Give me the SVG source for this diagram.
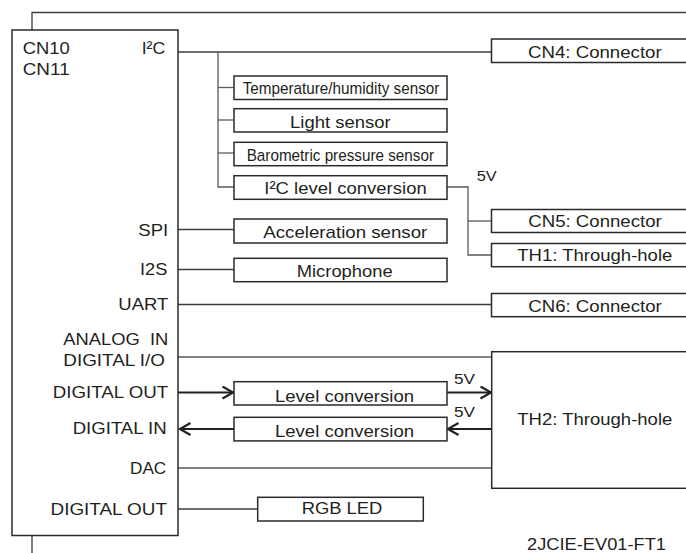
<svg xmlns="http://www.w3.org/2000/svg" width="686" height="553" viewBox="0 0 686 553">
  <style>
    .box { fill: #ffffff; stroke: #2a2a2a; stroke-width: 1.5; }
    .ln { fill: none; stroke: #3c3c3c; stroke-width: 1.3; }
    .bus { fill: none; stroke: #5a5a5a; stroke-width: 1.3; }
    .arw { fill: none; stroke: #231f20; stroke-width: 2.2; }
    text { font-family: "Liberation Sans", Arial, sans-serif; font-size: 17px; fill: #231f20; white-space: pre; }
    .v { font-size: 15.5px; }
  </style>
  <defs>
    <marker id="head" markerUnits="userSpaceOnUse" markerWidth="14" markerHeight="14" refX="11" refY="6.5" orient="auto">
      <path d="M0.5,0.5 L11,6.5 L0.5,12.5" fill="none" stroke="#231f20" stroke-width="2.2"/>
    </marker>
  </defs>

  <!-- connectors -->
  <g id="connectors">
    <polyline class="ln" points="32,30 32,12.5 700,12.5"/>
    <line class="ln" x1="32" y1="535.5" x2="32" y2="553"/>
    <line class="ln" x1="178" y1="52" x2="491.5" y2="52"/>
    <polyline class="bus" points="218,52 218,187 234,187"/>
    <line class="bus" x1="218" y1="87.5" x2="234" y2="87.5"/>
    <line class="bus" x1="218" y1="120" x2="234" y2="120"/>
    <line class="bus" x1="218" y1="153" x2="234" y2="153"/>
    <polyline class="bus" points="447,187 468,187 468,255 491.5,255"/>
    <line class="bus" x1="468" y1="221" x2="491.5" y2="221"/>
    <line class="ln" x1="178" y1="229.5" x2="234" y2="229.5"/>
    <line class="ln" x1="178" y1="269.5" x2="234" y2="269.5"/>
    <line class="ln" x1="178" y1="304.5" x2="491.5" y2="304.5"/>
    <line class="bus" x1="178" y1="357" x2="491.5" y2="357"/>
    <line class="arw" x1="178" y1="392.5" x2="233" y2="392.5" marker-end="url(#head)"/>
    <line class="arw" x1="447" y1="392.5" x2="491" y2="392.5" marker-end="url(#head)"/>
    <line class="arw" x1="234" y1="429" x2="180" y2="429" marker-end="url(#head)"/>
    <line class="arw" x1="491.5" y1="429" x2="448" y2="429" marker-end="url(#head)"/>
    <line class="bus" x1="178" y1="468" x2="491.5" y2="468"/>
    <line class="ln" x1="178" y1="509" x2="257.7" y2="509"/>
  </g>

  <!-- main board connector block -->
  <g id="cn10-cn11">
    <rect class="box" x="12" y="30" width="166" height="505.5"/>
    <text x="22.7" y="54.3" textLength="47" lengthAdjust="spacingAndGlyphs">CN10</text>
    <text x="22.7" y="75" textLength="47" lengthAdjust="spacingAndGlyphs">CN11</text>
    <text x="141.7" y="54.3" textLength="23.5" lengthAdjust="spacingAndGlyphs">I²C</text>
    <text x="138.3" y="235.7" textLength="30" lengthAdjust="spacingAndGlyphs">SPI</text>
    <text x="140" y="274.7" textLength="27.3" lengthAdjust="spacingAndGlyphs">I2S</text>
    <text x="118.3" y="310" textLength="50" lengthAdjust="spacingAndGlyphs">UART</text>
    <text x="63.3" y="345" textLength="105" lengthAdjust="spacingAndGlyphs">ANALOG  IN</text>
    <text x="63.3" y="366" textLength="101.7" lengthAdjust="spacingAndGlyphs">DIGITAL I/O</text>
    <text x="52.7" y="398" textLength="115.6" lengthAdjust="spacingAndGlyphs">DIGITAL OUT</text>
    <text x="72.7" y="434" textLength="94" lengthAdjust="spacingAndGlyphs">DIGITAL IN</text>
    <text x="130" y="474" textLength="36.3" lengthAdjust="spacingAndGlyphs">DAC</text>
    <text x="50.5" y="515" textLength="116.5" lengthAdjust="spacingAndGlyphs">DIGITAL OUT</text>
  </g>

  <!-- I2C devices -->
  <g id="temp-humidity">
    <rect class="box" x="234" y="76" width="213" height="23.5"/>
    <text x="242.7" y="94.3" textLength="196.7" lengthAdjust="spacingAndGlyphs">Temperature/humidity sensor</text>
  </g>
  <g id="light">
    <rect class="box" x="234" y="108.7" width="213" height="23.3"/>
    <text x="290" y="127.7" textLength="100.7" lengthAdjust="spacingAndGlyphs">Light sensor</text>
  </g>
  <g id="barometric">
    <rect class="box" x="234" y="142.3" width="213" height="23.4"/>
    <text x="246.7" y="160.7" textLength="187.3" lengthAdjust="spacingAndGlyphs">Barometric pressure sensor</text>
  </g>
  <g id="i2c-level">
    <rect class="box" x="234" y="175.7" width="213" height="23.6"/>
    <text x="264.3" y="194.3" textLength="162.4" lengthAdjust="spacingAndGlyphs">I²C level conversion</text>
  </g>
  <g id="cn4">
    <rect class="box" x="491.5" y="39" width="220" height="23.5"/>
    <text x="528" y="58.3" textLength="133.7" lengthAdjust="spacingAndGlyphs">CN4: Connector</text>
  </g>
  <g id="i2c-5v-label">
    <text class="v" x="476.7" y="180.7" textLength="20" lengthAdjust="spacingAndGlyphs">5V</text>
  </g>
  <g id="cn5">
    <rect class="box" x="491.5" y="209.5" width="220" height="23"/>
    <text x="528.3" y="226.7" textLength="133.4" lengthAdjust="spacingAndGlyphs">CN5: Connector</text>
  </g>
  <g id="th1">
    <rect class="box" x="491.5" y="243.5" width="220" height="23.2"/>
    <text x="517.3" y="260.7" textLength="155" lengthAdjust="spacingAndGlyphs">TH1: Through-hole</text>
  </g>

  <!-- SPI / I2S / UART -->
  <g id="acceleration">
    <rect class="box" x="234" y="219" width="213" height="24"/>
    <text x="263.3" y="237.7" textLength="164" lengthAdjust="spacingAndGlyphs">Acceleration sensor</text>
  </g>
  <g id="microphone">
    <rect class="box" x="234" y="258.3" width="213" height="23.4"/>
    <text x="296.7" y="276.7" textLength="96" lengthAdjust="spacingAndGlyphs">Microphone</text>
  </g>
  <g id="cn6">
    <rect class="box" x="491.5" y="293.5" width="220" height="23.2"/>
    <text x="528.3" y="311.7" textLength="133.4" lengthAdjust="spacingAndGlyphs">CN6: Connector</text>
  </g>

  <!-- TH2 and level shifters -->
  <g id="th2">
    <rect class="box" x="491.7" y="351.7" width="220" height="136.6"/>
    <text x="517.3" y="425" textLength="155" lengthAdjust="spacingAndGlyphs">TH2: Through-hole</text>
  </g>
  <g id="level-out">
    <rect class="box" x="234" y="381.7" width="213" height="23.3"/>
    <text x="275" y="401.5" textLength="139" lengthAdjust="spacingAndGlyphs">Level conversion</text>
    <text class="v" x="454" y="384" textLength="21" lengthAdjust="spacingAndGlyphs">5V</text>
  </g>
  <g id="level-in">
    <rect class="box" x="234" y="417.3" width="213" height="23.6"/>
    <text x="275" y="436.7" textLength="139" lengthAdjust="spacingAndGlyphs">Level conversion</text>
    <text class="v" x="454" y="417.3" textLength="21" lengthAdjust="spacingAndGlyphs">5V</text>
  </g>
  <g id="rgb-led">
    <rect class="box" x="257.7" y="497.3" width="165.6" height="23.7"/>
    <text x="301.7" y="514" textLength="80.7" lengthAdjust="spacingAndGlyphs">RGB LED</text>
  </g>

  <g id="model">
    <text x="527" y="550" textLength="139" lengthAdjust="spacingAndGlyphs">2JCIE-EV01-FT1</text>
  </g>
</svg>
